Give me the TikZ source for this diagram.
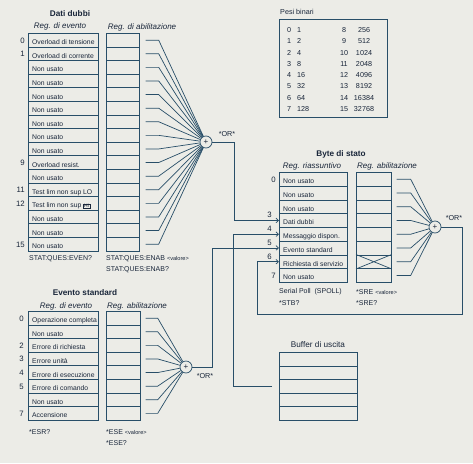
\documentclass[tikz,border=0pt]{standalone}
\usepackage{fontspec}
\setmainfont{Liberation Sans}
\usetikzlibrary{arrows.meta}
\definecolor{ln}{RGB}{40,78,104}
\definecolor{tx}{RGB}{25,38,58}
\definecolor{bg}{RGB}{236,236,231}
\newcommand\hibox{{\setlength{\fboxsep}{0.5pt}\setlength{\fboxrule}{0.3pt}\fbox{\fontsize{5}{5}\selectfont HI}}}
\begin{document}
\begin{tikzpicture}[x=1pt,y=-1pt,
  reg/.style={draw=ln, line width=0.7pt, inner sep=0, anchor=north west},
  rowtxt/.style={anchor=base west, inner sep=0, text=tx, font=\fontsize{6.8}{7}\selectfont},
  bitn/.style={anchor=base east, inner sep=0, text=tx, font=\fontsize{7.8}{8}\selectfont},
  ttl/.style={inner sep=0, text=tx, font=\bfseries\fontsize{8.2}{9}\selectfont},
  sub/.style={inner sep=0, text=tx, font=\itshape\fontsize{8}{9}\selectfont},
  cmd/.style={anchor=west, inner sep=0, text=tx, font=\fontsize{7}{8}\selectfont},
  small/.style={inner sep=0, text=tx, font=\fontsize{7.2}{8}\selectfont},
  orc/.style={circle, draw=ln, line width=0.7pt, fill=bg, minimum size=12pt, inner sep=0, text=tx, font=\fontsize{8}{8}\selectfont},
  orlab/.style={inner sep=0, text=tx, font=\fontsize{7.2}{8}\selectfont},
  wire/.style={draw=ln, line width=0.7pt},
  arr/.style={wire, -{Straight Barb[length=2.5pt,width=4.5pt]}}
]
\fill[bg] (0,0) rectangle (473,463);
\useasboundingbox (0,0) rectangle (473,463);

% ================= Dati dubbi =================
\node[ttl] (tdd) at (70,14) {Dati dubbi};
\node[sub] (sdd1) at (60,26) {Reg. di evento};
\node[sub] (sdd2) at (142,27) {Reg. di abilitazione};
\foreach \t [count=\i from 0] in {Overload di tensione,Overload di corrente,Non usato,Non usato,Non usato,Non usato,Non usato,Non usato,Non usato,Overload resist.,Non usato,Test lim non sup LO,{Test lim non sup \hibox},Non usato,Non usato,Non usato}{
  \node[reg, minimum width=70pt, minimum height=13.6pt] (dde\i) at (28,{33+13.6*\i}) {};
  \node[rowtxt] (ddt\i) at ([xshift=4pt,yshift=-4.5pt]dde\i.west) {\t};
  \node[reg, minimum width=33pt, minimum height=13.6pt] (dda\i) at (106,{33+13.6*\i}) {};
}
\foreach \b in {0,1,9,11,12,15}{
  \node[bitn] (ddb\b) at ([xshift=-3pt,yshift=-3pt]dde\b.west) {\b};
}
\node[orc] (or1) at (206,142) {+};
\foreach \i in {0,...,15}{
  \draw[wire] ([xshift=6pt]dda\i.east) -- ([xshift=19pt]dda\i.east) -- (or1);
}
\node[orlab] (orl1) at (227,134) {*OR*};
\node[cmd] (c1) at (29,259) {STAT:QUES:EVEN?};
\node[cmd] (c2) at (106,259) {STAT:QUES:ENAB {\fontsize{5.6}{6}\selectfont <valore>}};
\node[cmd] (c3) at (106,270) {STAT:QUES:ENAB?};

% ================= Pesi binari =================
\node[small, anchor=west] (tpb) at (280,12) {Pesi binari};
\node[reg, minimum width=108pt, minimum height=98pt] (pesi) at (279,19) {};
\foreach \a/\v/\c/\w [count=\i from 0] in {0/1/8/256,1/2/9/512,2/4/10/1024,3/8/11/2048,4/16/12/4096,5/32/13/8192,6/64/14/16384,7/128/15/32768}{
  \node[small] (pa\i) at (289,{30+11.3*\i}) {\a};
  \node[small, anchor=west] (pv\i) at (297,{30+11.3*\i}) {\v};
  \node[small] (pc\i) at (344,{30+11.3*\i}) {\c};
  \node[small] (pw\i) at (364,{30+11.3*\i}) {\w};
}

% ================= Byte di stato =================
\node[ttl] (tbs) at (341,154) {Byte di stato};
\node[sub] (sbs1) at (312,166) {Reg. riassuntivo};
\node[sub] (sbs2) at (387,166) {Reg. abilitazione};
\foreach \t [count=\i from 0] in {Non usato,Non usato,Non usato,Dati dubbi,Messaggio dispon.,Evento standard,Richiesta di servizio,Non usato}{
  \node[reg, minimum width=68pt, minimum height=13.75pt] (bs\i) at (279,{172+13.75*\i}) {};
  \node[rowtxt] (bst\i) at ([xshift=4pt,yshift=-4.5pt]bs\i.west) {\t};
  \node[reg, minimum width=35pt, minimum height=13.75pt] (bsa\i) at (356,{172+13.75*\i}) {};
}
\draw[wire] (bsa6.north west) -- (bsa6.south east) (bsa6.south west) -- (bsa6.north east);
\node[bitn] (bsb0) at ([xshift=-3pt,yshift=-3pt]bs0.west) {0};
\node[bitn] (bsb7) at ([xshift=-3pt,yshift=-3pt]bs7.west) {7};
\foreach \b in {3,4,5,6}{
  \node[bitn] (bsn\b) at ([xshift=-7pt,yshift=2.5pt]bs\b.west) {\b};
}
\node[orc] (or2) at (435,227) {+};
\foreach \i in {0,...,7}{
  \draw[wire] ([xshift=5pt]bsa\i.east) -- ([xshift=19pt]bsa\i.east) -- (or2);
}
\node[orlab] (orl2) at (454,218) {*OR*};
\node[cmd] (c4) at (279,292) {Serial Poll\ \ (SPOLL)};
\node[cmd] (c5) at (279,303) {*STB?};
\node[cmd] (c6) at (356,292) {*SRE {\fontsize{5.6}{6}\selectfont <valore>}};
\node[cmd] (c7) at (356,303) {*SRE?};

% ================= Evento standard =================
\node[ttl] (tes) at (85,293) {Evento standard};
\node[sub] (ses1) at (66,306) {Reg. di evento};
\node[sub] (ses2) at (137,306) {Reg. abilitazione};
\foreach \t [count=\i from 0] in {Operazione completa,Non usato,Errore di richiesta,Errore unità,Errore di esecuzione,Errore di comando,Non usato,Accensione}{
  \node[reg, minimum width=70pt, minimum height=13.6pt] (ese\i) at (28,{311+13.6*\i}) {};
  \node[rowtxt] (est\i) at ([xshift=4pt,yshift=-4.5pt]ese\i.west) {\t};
  \node[reg, minimum width=34pt, minimum height=13.6pt] (esa\i) at (106,{311+13.6*\i}) {};
}
\foreach \b in {0,2,3,4,5,7}{
  \node[bitn] (esb\b) at ([xshift=-4pt,yshift=-3pt]ese\b.west) {\b};
}
\node[orc] (or3) at (186,367) {+};
\foreach \i in {0,...,7}{
  \draw[wire] ([xshift=5pt]esa\i.east) -- ([xshift=17pt]esa\i.east) -- (or3);
}
\node[orlab] (orl3) at (205,376) {*OR*};
\node[cmd] (c8) at (29,432) {*ESR?};
\node[cmd] (c9) at (106,432) {*ESE {\fontsize{5.6}{6}\selectfont <valore>}};
\node[cmd] (c10) at (106,443) {*ESE?};

% ================= Buffer di uscita =================
\node[ttl, font=\fontsize{8.2}{9}\selectfont] (tbu) at (318,345) {Buffer di uscita};
\foreach \i in {0,...,4}{
  \node[reg, minimum width=78pt, minimum height=13.6pt] (bu\i) at (279,{352+13.6*\i}) {};
}
\coordinate (bufc) at (272,386);

% ================= Connections =================
\draw[arr] (or1.east) -| ([xshift=-45pt]bs3.west) -- (bs3.west);
\draw[arr] (bufc) -| ([xshift=-46pt]bs4.west) -- (bs4.west);
\draw[arr] (or3.east) -| ([xshift=-67pt]bs5.west) -- (bs5.west);
\coordinate (fb) at (462,314);
\draw[arr] (or2.east) -| (fb) -| ([xshift=-22pt]bs6.west) -- (bs6.west);
\end{tikzpicture}
\end{document}
